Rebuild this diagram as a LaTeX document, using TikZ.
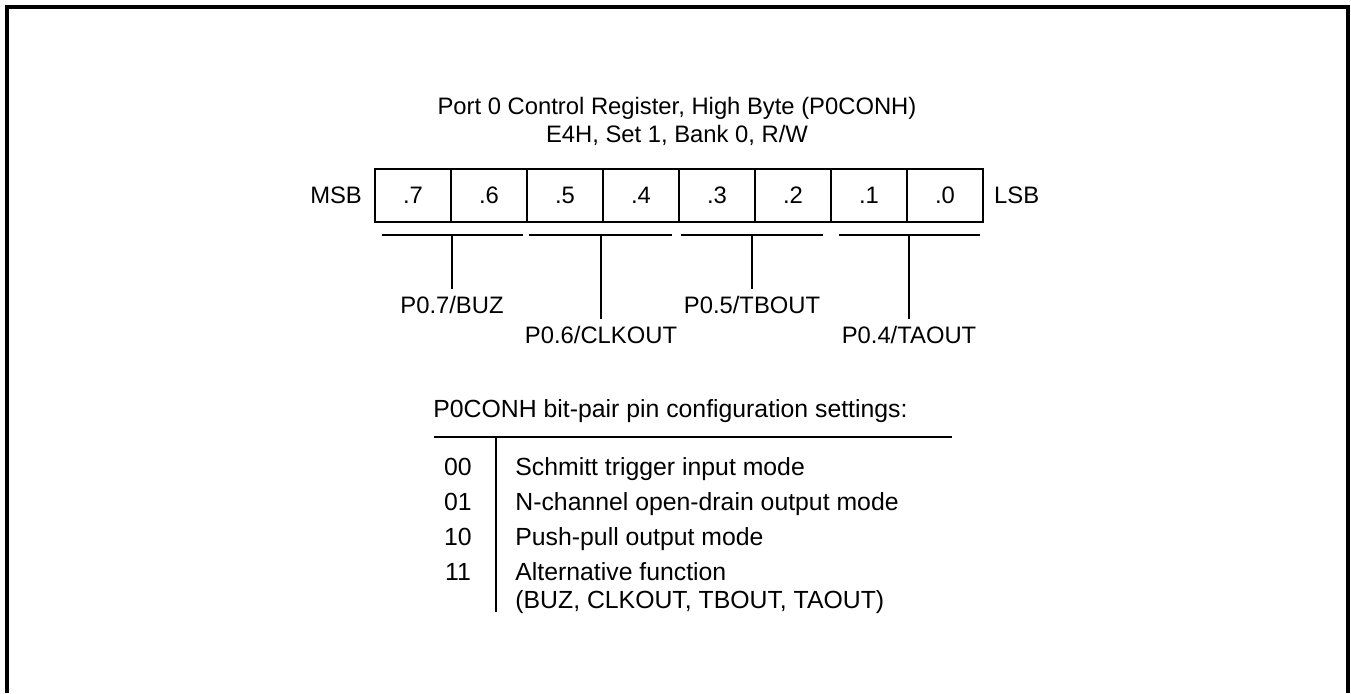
\documentclass[tikz,border=0pt]{standalone}
\usepackage{fontspec}
\setmainfont{Liberation Sans}
\usetikzlibrary{positioning}
\begin{document}
\begin{tikzpicture}[x=0.5pt,y=-0.5pt,
    every node/.style={font=\fontsize{11.9}{14}\selectfont},
    bitcell/.style={draw, line width=0.75pt, minimum width=38pt, minimum height=26.5pt, inner sep=0pt},
    pinlbl/.style={anchor=north, inner sep=3.5pt},
    plain/.style={inner sep=0pt},
    tbltext/.style={plain, font=\fontsize{12.4}{14}\selectfont},
    thinline/.style={line width=0.75pt}]
  \useasboundingbox (0,0) rectangle (1351,693);
  % outer frame, open at the bottom
  \draw[line width=1.6pt] (7,693) -- (7,7) -- (1348,7) -- (1348,693);

  \node[align=center] (title) at (677,121) {Port 0 Control Register, High Byte (P0CONH)\\E4H, Set 1, Bank 0, R/W};

  % register bits
  \foreach \b [count=\k from 0] in {7,6,...,0}
    \node[bitcell] (b\b) at ({413+76*\k},195.5) {.\b};
  \node[plain, left=6pt of b7] (msb) {MSB};
  \node[plain, right=5pt of b0] (lsb) {LSB};

  % bit-pair brackets
  \foreach \l/\r/\s/\n in {382/523/452/p7, 529/672/601/p6, 681/823/752/p5, 839/980/909/p4} {
    \draw[thinline] (\l,235) -- (\r,235);
    \coordinate (\n) at (\s,235);
  }
  \node[pinlbl] (buz) at (452,289) {P0.7/BUZ};
  \node[pinlbl] (clk) at (601,319) {P0.6/CLKOUT};
  \node[pinlbl] (tbo) at (752,289) {P0.5/TBOUT};
  \node[pinlbl] (tao) at (909,319) {P0.4/TAOUT};
  \draw[thinline] (p7) -- (buz);
  \draw[thinline] (p6) -- (clk);
  \draw[thinline] (p5) -- (tbo);
  \draw[thinline] (p4) -- (tao);

  % settings table
  \node[tbltext, anchor=base west] (hdr) at (433,417) {P0CONH bit-pair pin configuration settings:};
  \draw[thinline] (434,437) -- (952,437);
  \draw[thinline] (496,437) -- (496,612);
  \foreach \code/\txt [count=\i from 0] in {00/Schmitt trigger input mode, 01/N-channel open-drain output mode, 10/Push-pull output mode, 11/Alternative function} {
    \node[tbltext, anchor=base] (c\code) at (458,{475+35*\i}) {\code};
    \node[tbltext, anchor=base west] (d\code) at (515,{475+35*\i}) {\txt};
  }
  \node[tbltext, anchor=base west] (alt) at (515,608) {(BUZ, CLKOUT, TBOUT, TAOUT)};
\end{tikzpicture}
\end{document}
